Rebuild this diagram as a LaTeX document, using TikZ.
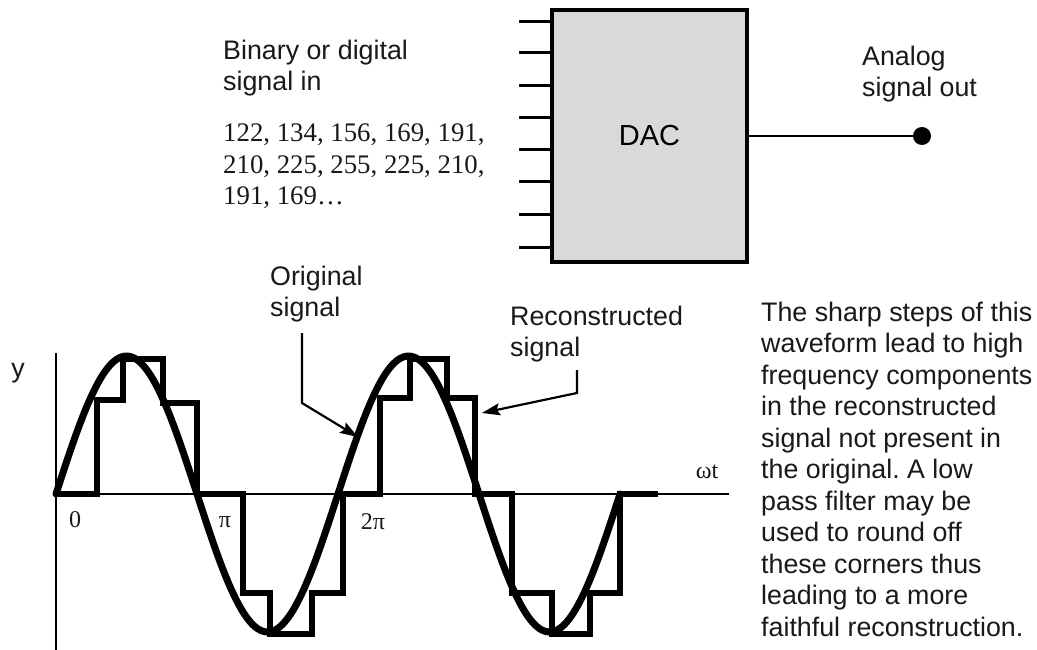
\documentclass[tikz,border=0pt]{standalone}
\usepackage{fontspec}
\setmainfont{Liberation Serif}
\setsansfont{Liberation Sans}
\usetikzlibrary{arrows.meta}
\definecolor{boxgray}{RGB}{217,217,217}
\definecolor{ink}{RGB}{25,25,25}
\frenchspacing
\begin{document}
\begin{tikzpicture}[x=1pt,y=-1pt,
  lbl/.style={font=\sffamily\fontsize{26.8}{31.5}\selectfont, text=ink, inner sep=0pt, align=left, anchor=north west},
  num/.style={font=\rmfamily\fontsize{26.8}{31.5}\selectfont, text=ink, inner sep=0pt, align=left, anchor=north west},
  ax/.style={font=\rmfamily\fontsize{24}{28}\selectfont, text=ink, inner sep=0pt},
  dacbox/.style={draw, line width=4pt, fill=boxgray, minimum width=195pt, minimum height=252pt, inner sep=0pt, font=\sffamily\fontsize{29}{34}\selectfont},
  pinline/.style={line width=3pt},
  outline/.style={line width=2.5pt},
  stair/.style={line width=6pt, line join=miter},
  wave/.style={line width=7pt, line cap=round, line join=round},
  arr/.style={line width=2.2pt, -{Stealth[length=18pt,width=12pt,inset=3pt]}},
  axisline/.style={line width=2pt}
]
\fill[white] (0,0) rectangle (1037,650);
\useasboundingbox (0,0) rectangle (1037,650);

% DAC block
\node[dacbox] (dac) at (649.5,136) {DAC};
\foreach \yy [count=\i] in {22,53,86,118,150,182,215,247} {
  \coordinate (p\i) at (519,\yy);
  \draw[pinline] (p\i) -- (p\i -| dac.west);
}
\node[circle, fill=black, inner sep=0pt, minimum size=18pt] (out) at (922,136) {};
\draw[outline] (dac.east) -- (out);

% texts
\node[lbl] (bin) at (223,39.8) {Binary or digital\\signal in};
\node[num] (nums) at (223,124) {122, 134, 156, 169, 191,\\210, 225, 255, 225, 210,\\191, 169\ldots};
\node[lbl] (ana) at (862,45.8) {Analog\\signal out};
\node[lbl] (orig) at (270,265.4) {Original\\signal};
\node[lbl] (rec) at (510,305.8) {Reconstructed\\signal};
\node[lbl] (note) at (761,301.8) {The sharp steps of this\\waveform lead to high\\frequency components\\in the reconstructed\\signal not present in\\the original. A low\\pass filter may be\\used to round off\\these corners thus\\leading to a more\\faithful reconstruction.};

% axes
\coordinate (yt) at (56,353);
\coordinate (yb) at (56,652);
\coordinate (xo) at (56,494);
\coordinate (xe) at (729,494);
\draw[axisline] (yt) -- (yb);
\draw[axisline] (xo) -- (xe);
\node[font=\sffamily\fontsize{26.8}{31.5}\selectfont, text=ink, inner sep=0pt, anchor=base] (ylab) at (18,377) {y};
\node[ax] (l0) at (75,520) {0};
\node[ax] (lpi) at (225,522) {π};
\node[ax] (l2pi) at (373,522) {2π};
\node[ax] (lwt) at (707,472) {ωt};

% original sine
\draw[wave] plot[domain=0:564, samples=160, smooth] ({56+\x}, {494-138*sin(\x/141*180)});

% reconstructed staircase
\draw[stair] (56,494) -- (97,494) -- (97,400) -- (123,400) -- (123,359) -- (163,359) -- (163,403) -- (197,403) -- (197,494)
  -- (243,494) -- (243,593) -- (270,593) -- (270,634) -- (312,634) -- (312,593) -- (343,593) -- (343,494)
  -- (380,494) -- (380,398) -- (410,398) -- (410,359) -- (447,359) -- (447,398) -- (475,398) -- (475,494)
  -- (512,494) -- (512,593) -- (552,593) -- (552,634) -- (590,634) -- (590,593) -- (620,593) -- (620,494) -- (658,494);

% pointer arrows
\coordinate (o1) at (302,333);
\coordinate (o2) at (302,403);
\coordinate (o3) at (358,437);
\draw[arr] (o1) -- (o2) -- (o3);
\coordinate (r1) at (577,370);
\coordinate (r2) at (577,393);
\coordinate (r3) at (482,413);
\draw[arr] (r1) -- (r2) -- (r3);
\end{tikzpicture}
\end{document}
